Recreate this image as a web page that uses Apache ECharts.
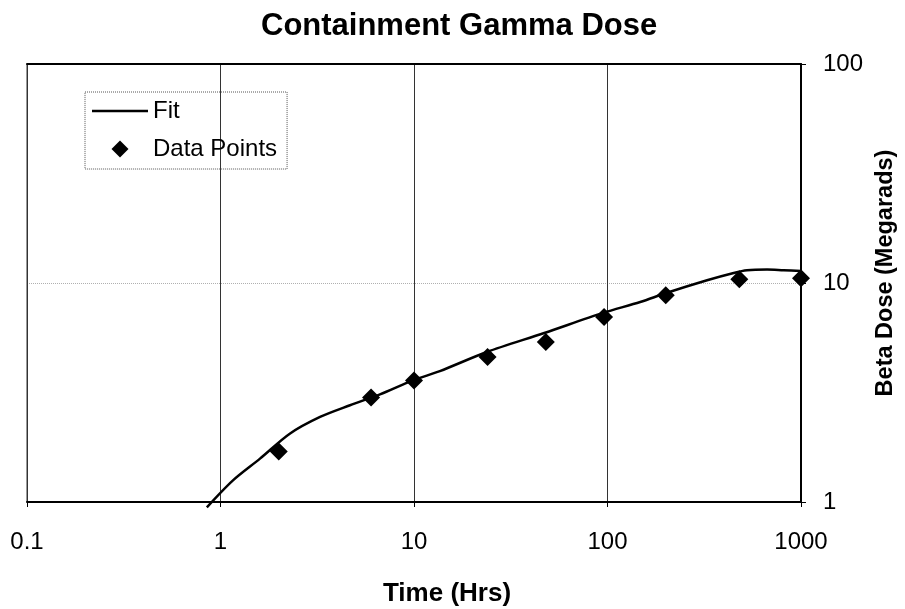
<!DOCTYPE html>
<html>
<head>
    <meta charset="utf-8">
    <title>Containment Gamma Dose</title>
    <script src="https://cdn.jsdelivr.net/npm/echarts@6/dist/echarts.min.js"></script>
    <style>
        html, body { margin: 0; padding: 0; background: #fff; }
        #main { width: 905px; height: 609px; }
    </style>
</head>
<body>
<div id="main"></div>
<script type="text/javascript">
    // data
    var hours = [2, 6, 10, 24, 48, 96, 200, 480, 1000];
    var dose = [1.70, 3.00, 3.59, 4.59, 5.38, 7.00, 8.79, 10.4, 10.5];

    // fit curve, traced
    var fitHours = [0.85, 1.16, 1.6, 2.28, 3.27, 4.67, 6.67, 9.88, 13.6, 23.8, 47.1, 94.7, 147.6, 201, 327, 449, 526, 668, 813, 1000];
    var fitDose = [0.946, 1.256, 1.578, 2.05, 2.445, 2.765, 3.10, 3.595, 3.96, 4.84, 5.91, 7.30, 8.19, 9.0, 10.29, 11.11, 11.43, 11.51, 11.43, 11.35];

    var xTickLabels = ['0.1', '1', '10', '100', '1000'];
    var yTickLabels = ['1', '10', '100'];

    var font = 'Liberation Sans, Arial, sans-serif';

    function pickLabel(list, v) {
        for (var i = 0; i < list.length; i++) {
            if (Math.abs(Math.log10(+list[i]) - Math.log10(v)) < 1e-6) return list[i];
        }
        return '';
    }

    var points = hours.map(function (h, i) { return [h, dose[i]]; });
    var fit = fitHours.map(function (h, i) { return [h, fitDose[i]]; });

    var myChart = echarts.init(document.getElementById('main'));
    var option = {
        animation: false,
        backgroundColor: '#fff',
        title: {
            text: 'Containment Gamma Dose',
            left: 261,
            top: 11,
            padding: 0,
            textStyle: { fontFamily: font, fontSize: 31, fontWeight: 'bold', color: '#000' }
        },
        legend: {
            left: 85,
            top: 92,
            orient: 'vertical',
            padding: [7, 10, 8, 7],
            itemWidth: 56,
            itemHeight: 17,
            itemGap: 14,
            symbolKeepAspect: true,
            borderColor: '#555',
            borderWidth: 1,
            borderType: 'dotted',
            textStyle: { fontFamily: font, fontSize: 24, color: '#000' },
            data: [
                { name: 'Fit', icon: 'path://M0,0L56,0L56,2.5L0,2.5Z' },
                { name: 'Data Points', icon: 'path://M0,-1L1,0L0,1L-1,0Z' }
            ]
        },
        grid: {
            left: 27,
            right: 104,
            top: 64,
            bottom: 107,
            outerBoundsMode: 'none',
            show: true,
            borderColor: '#333',
            borderWidth: 1
        },
        xAxis: [{
            type: 'log',
            logBase: 10,
            min: 0.1,
            max: 1000,
            name: 'Time (Hrs)',
            nameLocation: 'middle',
            nameGap: 79,
            nameTextStyle: { fontFamily: font, fontSize: 26, fontWeight: 'bold', color: '#000', padding: [0, 0, 0, 66] },
            axisLine: { show: true, lineStyle: { color: '#000', width: 2 } },
            axisTick: { show: true, length: 5, lineStyle: { color: '#000' } },
            minorTick: { show: false },
            axisLabel: {
                margin: 28,
                fontFamily: font, fontSize: 24, color: '#000',
                formatter: function (v) { return pickLabel(xTickLabels, v); }
            },
            splitLine: { show: true, lineStyle: { color: '#333', width: 1 } }
        }, {
            type: 'log',
            logBase: 10,
            min: 0.1,
            max: 1000,
            position: 'top',
            axisLine: { show: true, lineStyle: { color: '#000', width: 2 } },
            axisTick: { show: false },
            axisLabel: { show: false },
            splitLine: { show: false }
        }],
        yAxis: {
            type: 'log',
            logBase: 10,
            min: 1,
            max: 100,
            position: 'right',
            name: 'Beta Dose (Megarads)',
            nameLocation: 'middle',
            nameGap: 73,
            nameRotate: 90,
            nameTextStyle: { fontFamily: font, fontSize: 23.5, fontWeight: 'bold', color: '#000', padding: [0, 0, 0, 20] },
            axisLine: { show: true, lineStyle: { color: '#000', width: 2 } },
            axisTick: { show: true, length: 5, lineStyle: { color: '#000' } },
            axisLabel: {
                margin: 22,
                fontFamily: font, fontSize: 24, color: '#000',
                formatter: function (v) { return pickLabel(yTickLabels, v); }
            },
            splitLine: { show: true, lineStyle: { color: '#b0b0b0', width: 1, type: 'dotted' } }
        },
        series: [{
            name: 'Fit',
            type: 'line',
            data: fit,
            smooth: 0.3,
            symbol: 'none',
            clip: false,
            lineStyle: { color: '#000', width: 2.5 },
            itemStyle: { color: '#000' },
            z: 3
        }, {
            name: 'Data Points',
            type: 'scatter',
            data: points,
            symbol: 'diamond',
            symbolSize: 18,
            itemStyle: { color: '#000', opacity: 1 },
            z: 4
        }]
    };
    myChart.setOption(option);
</script>
</body>
</html>
